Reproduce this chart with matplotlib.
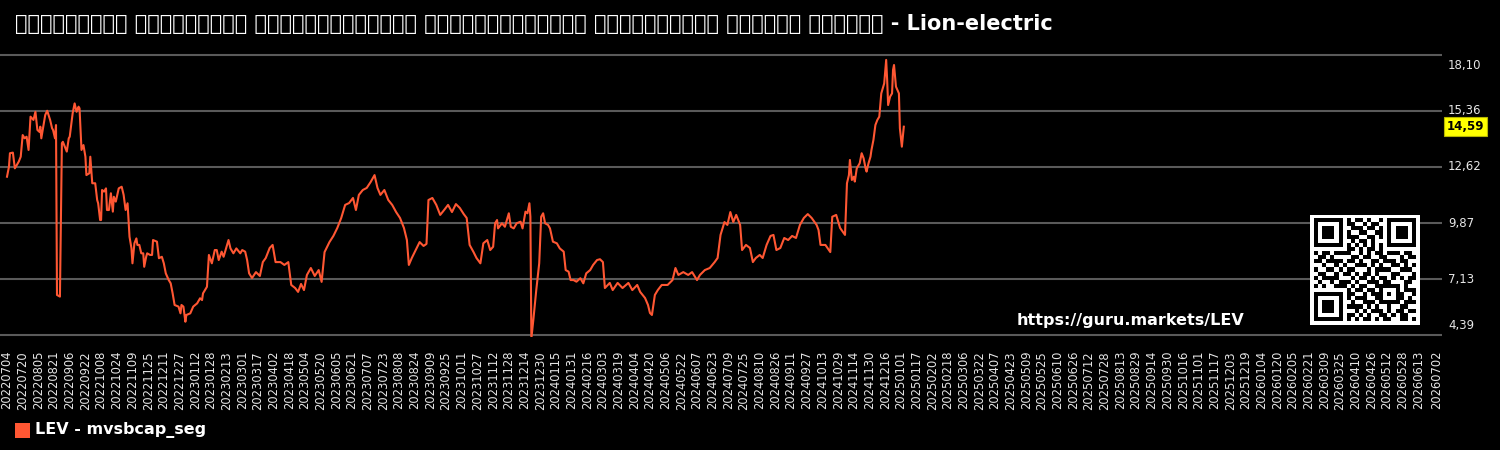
import numpy as np
import pandas as pd
import matplotlib
matplotlib.use("Agg")
import matplotlib.pyplot as plt
import matplotlib.transforms as mtransforms
from matplotlib.patches import Rectangle

# ---------------- data ----------------
title = ("ಮಾರುಕಟ್ಟೆ ವಿಭಾಗಕ್ಕೆ ಮಾರುಕಟ್ಟೆಯಿಂದ ಪುಸ್ತಕದವರೆಗಿನ "
         "ಬಂಡವಾಳೀಕರಣ ಅನುಪಾತ ಚಾರ್ಟ್ - Lion-electric")
series_name = "LEV - mvsbcap_seg"
url_text = "https://guru.markets/LEV"
start_date = "2022-07-04"

day_offsets = [
    0, 1, 2, 3, 6, 8, 10, 12, 14, 16, 18, 20, 22, 24, 27, 29, 31, 33, 34, 35, 37, 39, 41, 44, 46, 47, 49, 50,
    51, 54, 56, 57, 61, 63, 64, 67, 69, 71, 73, 74, 76, 78, 80, 81, 84, 85, 87, 90, 92, 93, 95, 96, 97, 99,
    101, 102, 104, 106, 108, 109, 111, 114, 117, 119, 121, 123, 125, 127, 128, 130, 132, 133, 135, 137, 139,
    140, 142, 143, 146, 148, 149, 153, 155, 158, 160, 162, 165, 167, 169, 171, 175, 177, 178, 180, 182, 183,
    187, 190, 194, 197, 199, 200, 204, 206, 209, 212, 214, 216, 219, 221, 224, 226, 228, 231, 234, 238, 240,
    243, 245, 247,
    250, 254, 258, 261, 264, 268, 271, 274, 279, 283, 287, 290, 294, 297, 300, 303, 306, 310, 314, 318, 321,
    324, 329, 333, 337, 341, 345, 349, 353, 356, 359, 363, 367, 371, 375, 378, 381, 385, 389, 393, 397, 401,
    405, 408, 410, 413, 417, 421, 425, 428, 430, 434, 438, 442, 446, 450, 454, 458, 462, 466, 469, 472, 476,
    479,
    483, 486, 490, 493, 496, 498, 500, 501, 505, 508, 512, 514, 517, 520, 524, 526, 529, 531, 533, 534, 535,
    537, 540, 543, 545, 547, 549, 552, 554, 557, 561, 564, 568, 570, 573, 575, 578, 581, 585, 588, 591, 595,
    598, 602, 605,
    608, 610, 615, 618, 623, 628, 634, 638, 643, 646, 651, 654, 656, 658, 661, 664, 668, 674, 679, 682, 685,
    690, 695, 699, 704, 707, 712, 717, 722, 725, 728, 732, 735, 738, 741, 744, 748, 750, 754, 758, 761, 764,
    768, 771, 775, 779, 782, 785, 789, 793, 797, 801, 805, 809, 813, 817, 821, 826, 828, 830, 835, 840, 842,
    846, 850, 855, 857, 859, 860, 862, 864, 865, 867, 870, 872, 874, 876, 877, 879, 881, 882, 884, 886, 888,
    890, 892, 894, 895, 897, 898, 899, 901, 903, 904, 905, 907, 910, 911, 913, 915,
]

values = [
    12.14, 12.39, 12.63, 13.29, 13.32, 12.55, 12.71, 12.88, 13.12, 14.18, 14.02, 14.10, 13.45, 15.08, 14.92,
    15.32, 14.43, 14.34, 14.59, 14.02, 14.59, 15.16, 15.37, 14.92, 14.51, 14.43, 14.02, 14.67,
    6.35, 6.27, 13.78, 13.85, 13.37, 14.02, 14.10, 15.25, 15.73, 15.32, 15.57, 15.49, 13.45, 13.69, 13.12,
    12.22, 12.31, 13.12, 11.82, 11.82, 11.00, 10.84, 10.02, 10.02, 11.49, 11.41,
    11.57, 10.51, 10.51, 11.33, 10.43, 11.16, 10.92, 11.57, 11.65, 11.25, 10.51, 10.84, 9.20, 8.63, 7.90,
    8.88, 9.12, 8.80, 8.80, 8.39, 8.39,
    7.73, 8.22, 8.39, 8.31, 8.31, 9.04, 8.96, 8.15, 8.22, 7.90, 7.41, 7.08, 6.92, 6.43, 5.86, 5.78, 5.45,
    5.86, 5.78, 5.04, 5.37,
    5.45, 5.78, 5.94, 6.19, 6.10, 6.43, 6.75, 8.31, 7.90, 8.55, 8.55, 8.06, 8.47, 8.22, 8.71, 9.04, 8.63,
    8.39, 8.63, 8.39, 8.55,
    8.47, 8.06, 7.41,
    7.18, 7.47, 7.28, 7.96, 8.16, 8.65, 8.80, 7.96, 7.96, 7.82, 7.96, 6.84, 6.69, 6.50, 6.89, 6.59, 7.33,
    7.67, 7.28, 7.57, 6.99,
    8.45, 8.94, 9.24, 9.63, 10.12, 10.76, 10.85, 11.10, 10.51, 11.25, 11.49, 11.59, 11.88, 12.22, 11.59,
    11.25, 11.49, 11.00, 10.76, 10.41, 10.12,
    9.63, 9.04, 7.82, 8.16, 8.55, 8.94, 8.75, 8.85, 11.00, 11.10, 10.76, 10.27, 10.51, 10.76, 10.41, 10.80,
    10.61, 10.31, 10.12, 8.80, 8.45,
    8.16,
    7.90, 8.88, 9.04, 8.55, 8.71, 9.86, 10.02, 9.61, 9.86, 9.69, 10.35, 9.69, 9.61, 9.86, 9.94, 9.61, 10.43,
    10.35, 10.84, 10.18, 4.23,
    5.12, 6.59, 7.90, 10.18, 10.35, 9.86, 9.78, 9.61, 8.96, 8.88, 8.63, 8.47, 7.57, 7.49, 7.08, 7.08, 7.00,
    7.17, 6.92, 7.41, 7.57,
    7.82, 8.06, 8.10,
    7.96, 6.69, 6.94, 6.59, 6.94, 6.69, 6.94, 6.59, 6.84, 6.50, 6.20, 5.86, 5.47, 5.37, 6.35, 6.59, 6.84,
    6.84, 7.08, 7.67, 7.33,
    7.47, 7.33, 7.47, 7.08, 7.33, 7.57, 7.67, 7.96, 8.16, 9.29, 9.92, 9.78, 10.41, 9.92, 10.27, 9.78, 8.55,
    8.80, 8.65, 7.96, 8.16,
    8.31, 8.16, 8.80, 9.24, 9.29, 8.55, 8.65, 9.14, 9.04, 9.24, 9.14, 9.78, 10.12, 10.31, 10.12, 9.78, 9.53,
    8.80, 8.80, 8.45, 10.18,
    10.27, 9.63, 9.29, 11.82, 12.22, 12.96, 11.98, 12.14, 11.90, 12.55, 12.80, 13.29, 13.04, 12.55, 12.39,
    12.80, 13.12, 13.45, 13.94, 14.67, 14.92,
    15.08, 16.22, 16.55, 16.71, 17.86, 16.88, 15.65, 16.06, 16.22, 17.37, 17.61, 16.55, 16.22, 14.51, 13.61,
    14.59,
]

last_value = 14.59
y_ticks = [4.39, 7.13, 9.87, 12.62, 15.36, 18.10]
tick_first = "2022-07-04"
tick_last_regular = "2026-06-13"
tick_end = "2026-07-02"
tick_step = "16D"

qr_rows = [
    "1111111010110100101111111",
    "1000001011001011001000001",
    "1011101001110110101011101",
    "1011101010011001101011101",
    "1011101011100110101011101",
    "1000001001011010001000001",
    "1111111010101010101111111",
    "0000000011010110100000000",
    "1011011110010101101110110",
    "0110100001101100110001011",
    "1101111011010011011101100",
    "0010010100111010100110101",
    "1001101011000101111001110",
    "0110010110101101000110001",
    "1011110001011010110101011",
    "0100101110100111011000110",
    "1010011101011001111110100",
    "0000000010110110100010111",
    "1111111011001011101011001",
    "1000001010111001100011010",
    "1011101001001110111110111",
    "1011101011110101001001100",
    "1011101000101011101011011",
    "1000001011010100110101100",
    "1111111010101101011001101",
]

# ---------------- styling ----------------
W, H = 1500, 450
BG = "black"
LINE = "#ff5733"
GRID = "#5a5a5a"
TXT = "#e6e6e6"

fig = plt.figure(figsize=(W / 100, H / 100), dpi=100, facecolor=BG)

ax_left, ax_right = 0, 1442
ax_top, ax_bot = 53, 337
ax = fig.add_axes([ax_left / W, 1 - ax_bot / H, (ax_right - ax_left) / W, (ax_bot - ax_top) / H])
ax.set_facecolor(BG)

dates = pd.Timestamp(start_date) + pd.to_timedelta(day_offsets, unit="D")
ax.plot(dates, values, color=LINE, lw=1.5, solid_joinstyle="round", zorder=3)

# y axis: grid lines at the ticks, labels drawn at the right edge
per_px = (max(y_ticks) - min(y_ticks)) / 280.0
ax.set_ylim(min(y_ticks) - 2 * per_px, max(y_ticks) + 2 * per_px)
ax.set_yticks(y_ticks)
ax.tick_params(axis="y", length=0, labelright=False, labelleft=False)
ax.grid(axis="y", color=GRID, lw=1.5)
ax.set_axisbelow(True)

trans = mtransforms.blended_transform_factory(ax.transAxes, ax.transData)
for i, v in enumerate(y_ticks):
    off = 0
    if i == len(y_ticks) - 1:
        off = -11
    elif i == 0:
        off = 10
    ax.text(1 + 6 / 1442, v, f"{v:.2f}".replace(".", ","), ha="left", va="center",
            fontsize=8.5, color=TXT, clip_on=False,
            transform=trans + mtransforms.ScaledTranslation(0, off / 100, fig.dpi_scale_trans))

# x axis
tick_dates = pd.date_range(tick_first, tick_last_regular, freq=tick_step).append(pd.DatetimeIndex([tick_end]))
day_px = 1430 / (pd.Timestamp(tick_end) - pd.Timestamp(tick_first)).days
ax.set_xlim(pd.Timestamp(tick_first) - pd.Timedelta(days=7 / day_px),
            pd.Timestamp(tick_end) + pd.Timedelta(days=5 / day_px))
ax.set_xticks(tick_dates)
ax.set_xticklabels([d.strftime("%Y%m%d") for d in tick_dates], rotation=90)
ax.tick_params(axis="x", length=0, pad=10, labelcolor=TXT, labelsize=8.3)

for s in ax.spines.values():
    s.set_visible(False)

# last value badge
ax.text(1 + 5 / 1442, last_value, f"{last_value:.2f}".replace(".", ","), transform=trans,
        ha="left", va="center", fontsize=8.5, fontweight="bold", color="black",
        bbox=dict(boxstyle="square,pad=0.25", facecolor="#ffff00", edgecolor="#b5b500", lw=0.8),
        clip_on=False, zorder=5)

# title
fig.text(15 / W, 1 - 24 / H, title, ha="left", va="center", fontsize=15,
         fontweight="bold", color="white")

# url
fig.text(1017 / W, 1 - 320 / H, url_text, ha="left", va="center", fontsize=11.5,
         fontweight="bold", color="white")

# QR code
qr = np.array([[int(c) for c in r] for r in qr_rows])
qr = np.pad(qr, 1, constant_values=0)
qax = fig.add_axes([1310 / W, 1 - 325 / H, 110 / W, 110 / H])
qax.imshow(1 - qr, cmap="gray", vmin=0, vmax=1, interpolation="nearest", aspect="auto")
qax.axis("off")

# legend
fig.patches.append(Rectangle((15 / W, 1 - 438 / H), 15 / W, 15 / H, transform=fig.transFigure,
                             facecolor=LINE, edgecolor="none"))
fig.text(35 / W, 1 - 430 / H, series_name, ha="left", va="center", fontsize=11.5,
         fontweight="bold", color="white")

fig.savefig("out.png", dpi=100, facecolor=BG)
